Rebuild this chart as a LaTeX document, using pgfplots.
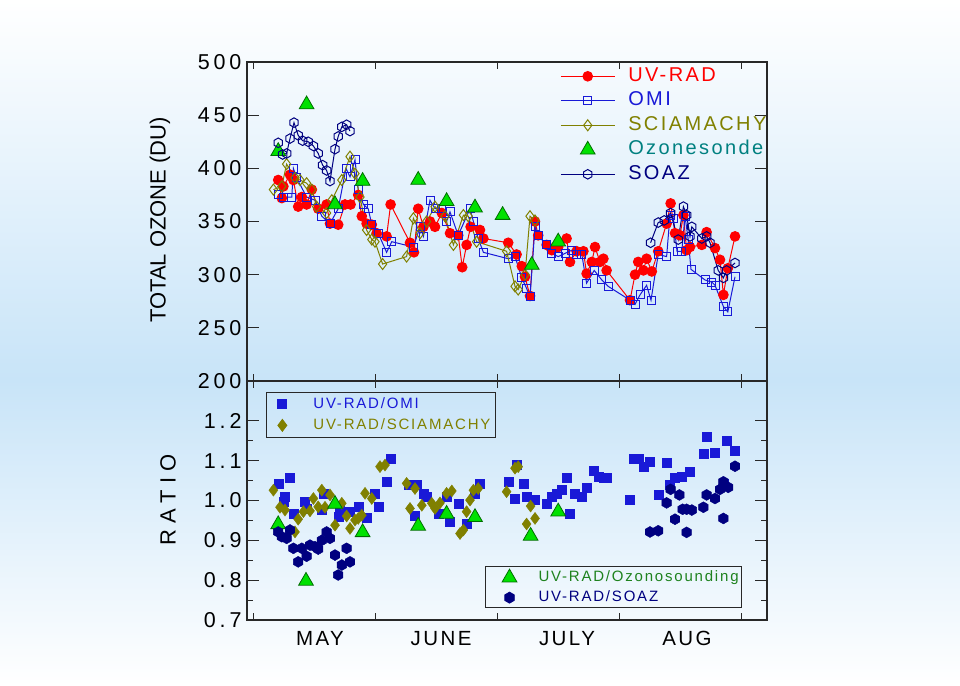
\documentclass[border=0pt]{standalone}
\usepackage{fontspec}
\setmainfont{Liberation Sans}
\newfontfamily\lsp[LetterSpace=12]{Liberation Sans}
\newfontfamily\lspt[LetterSpace=18]{Liberation Sans}
\newfontfamily\lspw[LetterSpace=30]{Liberation Sans}
\usepackage{pgfplots}
\pgfplotsset{compat=1.18}

\definecolor{uvred}{RGB}{255,0,0}
\definecolor{omiblue}{RGB}{25,25,215}
\definecolor{sciaolive}{RGB}{128,128,0}
\definecolor{soaznavy}{RGB}{0,0,128}
\definecolor{sondegreen}{RGB}{0,225,0}
\definecolor{sondeedge}{RGB}{0,110,0}
\definecolor{sondetext}{RGB}{0,128,128}
\definecolor{ozontext}{RGB}{30,130,30}
\definecolor{bgblue}{RGB}{200,228,248}
\definecolor{axgray}{RGB}{40,40,40}

\pgfdeclareplotmark{hexagon}{%
\pgfpathmoveto{\pgfqpointpolar{90}{\pgfplotmarksize}}%
\pgfpathlineto{\pgfqpointpolar{150}{\pgfplotmarksize}}%
\pgfpathlineto{\pgfqpointpolar{210}{\pgfplotmarksize}}%
\pgfpathlineto{\pgfqpointpolar{270}{\pgfplotmarksize}}%
\pgfpathlineto{\pgfqpointpolar{330}{\pgfplotmarksize}}%
\pgfpathlineto{\pgfqpointpolar{30}{\pgfplotmarksize}}%
\pgfpathclose\pgfusepathqstroke}
\pgfdeclareplotmark{hexagon*}{%
\pgfpathmoveto{\pgfqpointpolar{90}{\pgfplotmarksize}}%
\pgfpathlineto{\pgfqpointpolar{150}{\pgfplotmarksize}}%
\pgfpathlineto{\pgfqpointpolar{210}{\pgfplotmarksize}}%
\pgfpathlineto{\pgfqpointpolar{270}{\pgfplotmarksize}}%
\pgfpathlineto{\pgfqpointpolar{330}{\pgfplotmarksize}}%
\pgfpathlineto{\pgfqpointpolar{30}{\pgfplotmarksize}}%
\pgfpathclose\pgfusepathqfillstroke}

\pgfplotsset{
  base/.style={scale only axis, width=520pt, xmin=-1.5, xmax=128.5, anchor=south west,
    axis line style={axgray,line width=1.3pt}, tick align=inside,
    major tick style={axgray,line width=1pt}, minor tick style={axgray,line width=0.8pt},
    major tick length=12pt, minor tick length=6pt,
    yticklabel style={font=\fontsize{21.5}{25}\selectfont\lspt, xshift=-2pt},
    xticklabel style={font=\fontsize{20.5}{24}\selectfont\lsp},
    /pgf/number format/assume math mode=true},
}

\pgfplotstableread{
d v
6.3 389
7.2 372
7.6 383
9.25 394
10.1 389
11.3 364
12.2 373
13.4 366
14.7 380
16.3 362
18.4 366
19.25 348
21.3 347
23 366
24.4 366
26.3 375
27.2 355
28.4 348
29.7 347
30.9 339
33.4 336
34.4 366
39.25 330
40.25 321
41.3 362
42.6 345
44.25 350
45.5 345
47.2 358
49.25 339
51.3 337
52.3 307
53.4 328
54.4 345
56.75 342
57.6 334
63.8 330
65.9 319
67.2 308
68 298
69.25 280
70.5 350
71.3 337
73.4 328
74.7 323
76.3 326
78.4 334
79.25 312
80.9 322
82.6 322
83.4 301
84.7 312
85.5 326
86.75 312
87.6 315
88.4 304
94.25 276
95.5 300
96.3 312
97.6 304
98.4 315
99.7 303
101.3 322
103.4 348
104.4 367
105.5 339
106.75 337
107.6 356
108.4 323
109.25 326
112.2 328
113.4 340
115.5 325
116.75 314
117.6 281
118.7 306
120.5 336
}\uvrad

\pgfplotstableread{
d v
6.3 375
7.6 373
9.7 373
10.1 400
10.9 391
13.4 373
15.5 370
17.2 355
19.25 348
21.3 362
23.25 400
24.25 392
25.5 408
26.3 380
27.6 366
28.8 362
29.7 347
31.3 339
33.4 321
34.7 331
40.1 326
41.75 345
42.6 336
44.25 370
45.5 362
47.2 362
48.4 350
49.25 359
51.3 337
54.25 362
55.1 350
56.3 334
57.6 321
63.8 315
65.5 317
67.2 297
68.4 287
69.25 279
70.5 345
71.3 337
73.4 328
74.7 320
76.3 317
78 320
79.7 323
80.9 319
82.2 319
83.4 292
85.3 304
87.2 295
88.8 289
94.25 276
95.5 272
96.75 281
98.4 290
99.5 276
101.3 319
103.4 317
104.25 356
105.1 353
106 322
107.2 322
108 355
108.8 333
109.5 305
113 295
114.7 293
115.5 290
117.6 270
118.7 265
120.5 298
}\omi

\pgfplotstableread{
d v
5.1 380
7.2 383
8.4 404
10.5 391
11.75 389
13.4 386
14.7 380
15.9 364
18.4 358
19.7 370
22.2 389
24.25 411
25.5 395
26.75 373
28.4 342
29.7 333
30.5 331
32.4 310
38.4 317
40.1 353
41.75 339
43.4 350
45.5 364
48 355
50.1 328
52.6 356
53.8 355
55.9 331
63.4 322
65.5 289
66.3 286
68 300
69.25 355
70.5 351
}\scia

\pgfplotstableread{
d v
6.3 416
13.4 460
20.5 366
27.4 388
41.3 389
48.4 369
55.5 363
62.4 356
69.7 309
76.3 331
}\sonde

\pgfplotstableread{
d v
6.3 424
7.4 413
8.4 414
9.25 428
10.25 443
11.3 431
12.4 426
13.8 425
15.1 421
16.3 414
17.4 403
18.4 398
19.25 388
20.5 418
21.3 430
22.2 439
23.4 441
24.25 435
60 nan
99.4 330
101.3 349
102.8 351
104.4 358
106.3 333
107.6 364
108.4 356
109.25 336
109.7 345
112.2 334
113.4 336
114.25 330
116.3 304
117.6 297
118.4 304
120.5 311
}\soaz

\pgfplotstableread{
d r
6.3 1.041
7.6 0.997
8 1.009
9.25 1.057
10.1 0.968
13 0.997
13.4 0.980
17.2 0.976
17.6 1.018
21.3 0.959
21.75 0.976
24.25 0.972
26.3 0.984
28.4 0.957
30.5 1.018
31.3 0.984
33.4 1.047
34.4 1.106
38.8 1.039
40.5 0.963
40.9 1.039
42.6 1.018
43.4 1.009
46.3 0.968
48.4 1.009
49.25 0.948
51.3 0.993
53.4 0.942
55.5 1.018
56.75 1.041
63.8 1.047
65.5 1.005
65.9 1.089
67.6 1.043
68.4 1.009
70.5 1.001
73.4 0.993
74.7 1.009
75.9 1.018
77.2 1.026
78.4 1.058
79.25 0.968
80.5 1.018
82.2 1.009
83.4 1.032
85.1 1.074
86.3 1.060
87.6 1.058
88.4 1.056
94.25 1.003
95.1 1.106
96.3 1.106
97.6 1.085
99.25 1.097
101.3 1.015
103.4 1.096
104.25 1.039
105.5 1.056
107.2 1.060
109.25 1.072
112.6 1.117
113.4 1.159
115.5 1.121
117.6 1.043
118.4 1.150
120.5 1.125
}\romi

\pgfplotstableread{
d r
5.1 1.026
6.75 0.983
8 0.976
10.5 0.921
11.3 0.953
12.6 0.972
14.25 0.974
15.1 1.005
16.3 0.984
17.2 1.026
18 0.983
19.25 1.014
20.5 0.938
22.2 0.993
23.4 0.961
24.25 0.930
25.5 0.951
26.3 0.955
27.2 0.963
28 1.018
29.7 1.005
31.75 1.085
33 1.089
38.4 1.043
39.25 0.980
40.5 1.030
42.2 0.988
44.7 0.993
45.5 0.980
46.75 0.994
48.4 1.018
49.7 1.024
51.75 0.917
52.6 0.926
53.4 0.972
54.25 1.001
55.1 1.026
56.3 1.030
63.4 1.022
65.5 1.081
66.3 1.085
68.4 0.941
69.4 0.986
70.5 0.955
}\rscia

\pgfplotstableread{
d r
6.3 0.940
13.25 0.798
20.5 0.991
27.4 0.920
41.3 0.936
48.4 0.966
55.5 0.958
69.4 0.911
76.3 0.972
}\rsonde

\pgfplotstableread{
d r
6.3 0.921
7.2 0.909
8.4 0.905
9.25 0.926
10.1 0.880
11.3 0.846
12.2 0.880
13.4 0.860
14.25 0.888
15.5 0.884
16.3 0.878
17.2 0.900
18.4 0.921
19.25 0.905
20.5 0.863
21.3 0.813
22.2 0.838
23.4 0.880
24.25 0.846
99.25 0.921
101.3 0.924
103.4 0.994
104.4 1.028
105.5 0.953
106.6 1.014
107.4 0.978
108.4 0.978
108.4 0.920
109.7 0.976
112.6 0.983
113.4 1.014
115.5 1.005
116.75 1.028
117.6 0.955
117.6 1.047
118.8 1.033
120.5 1.086
}\rsoaz

\begin{document}
\begin{tikzpicture}[x=1pt,y=1pt]
\path[use as bounding box] (0,0) rectangle (960,685);
\shade[top color=white, bottom color=bgblue] (0,305) rectangle (960,685);
\shade[top color=bgblue, bottom color=white] (0,0) rectangle (960,305);

% ---------- top panel ----------
\begin{axis}[base, at={(247pt,304pt)}, height=319pt,
  ymin=200, ymax=500, ytick={200,250,...,500},
  xtick={0,30.5,61,91.5,122}, xticklabels={},
  x tick style={/pgfplots/major tick length=7pt},
  unbounded coords=jump,
  legend style={at={(0.602,0.984)}, anchor=north west, draw=none, fill=none,
    inner sep=0pt, row sep=6.5pt,
    font=\fontsize{20}{24}\selectfont\lsp,
    nodes={inner sep=0pt, text height=14pt, text depth=4pt},
    /tikz/every odd column/.append style={column sep=13pt}},
  legend cell align=left,
  legend image code/.code={\draw[mark repeat=2,mark phase=2,#1] plot coordinates {(0pt,0pt) (27pt,0pt) (54pt,0pt)};},
]
\addplot[uvred, line width=1pt, mark=*, mark size=4.8pt, mark options={fill=uvred}] table[x=d,y=v] {\uvrad};
\addlegendentry{\textcolor{uvred}{UV-RAD}}
\addplot[omiblue, line width=1pt, mark=square, mark size=4pt, mark options={line width=1pt}] table[x=d,y=v] {\omi};
\addlegendentry{\textcolor{omiblue}{OMI}}
\addplot[sciaolive, line width=1pt, mark=diamond, mark size=5.5pt, mark options={line width=1pt}] table[x=d,y=v] {\scia};
\addlegendentry{\textcolor{sciaolive}{SCIAMACHY}}
\addplot[only marks, mark=triangle*, mark size=8.5pt, mark options={fill=sondegreen, draw=sondeedge, line width=0.8pt}] table[x=d,y=v] {\sonde};
\addlegendentry{\textcolor{sondetext}{Ozonesonde}}
\addplot[soaznavy, line width=1pt, mark=hexagon, mark size=4.8pt, mark options={line width=1pt}] table[x=d,y=v] {\soaz};
\addlegendentry{\textcolor{soaznavy}{SOAZ}}
\end{axis}

% ---------- bottom panel ----------
\begin{axis}[base, at={(247pt,65pt)}, height=239pt,
  ymin=0.7, ymax=1.3, ytick={0.7,0.8,0.9,1.0,1.1,1.2},
  yticklabels={0.7,0.8,0.9,1.0,1.1,1.2}, minor y tick num=1,
  xtick={16.75,47,78.5,108.5}, xticklabels={MAY,JUNE,JULY,AUG},
  x tick style={/pgfplots/major tick length=0pt},
  extra x ticks={0,30.5,61,91.5,122}, extra x tick labels={},
  extra x tick style={x tick style={/pgfplots/major tick length=7pt}},
  xticklabel style={yshift=-8pt},
  legend style={at={(0.0365,0.954)}, anchor=north west, draw=axgray, line width=0.8pt, fill=none,
    inner sep=5pt, row sep=7pt,
    font=\fontsize{15}{18}\selectfont\lsp,
    nodes={inner sep=0pt, text height=11pt, text depth=3pt},
    /tikz/every odd column/.append style={column sep=20pt}},
  legend cell align=left,
  legend image code/.code={\path[draw=none,fill=none] (0pt,-5pt) rectangle (22pt,5pt); \draw[mark repeat=2,mark phase=2,#1] plot coordinates {(0pt,0pt) (11pt,0pt) (22pt,0pt)};},
]
\addplot[only marks, mark=square*, mark size=4.5pt, mark options={fill=omiblue, draw=omiblue}] table[x=d,y=r] {\romi};
\addlegendentry{\textcolor{omiblue}{UV-RAD/OMI}}
\addplot[only marks, mark=diamond*, mark size=6pt, mark options={fill=sciaolive, draw=sciaolive}] table[x=d,y=r] {\rscia};
\addlegendentry{\textcolor{sciaolive}{UV-RAD/SCIAMACHY}}
\end{axis}

\begin{axis}[base, at={(247pt,65pt)}, height=239pt, hide axis,
  ymin=0.7, ymax=1.3,
  legend style={at={(0.952,0.05)}, anchor=south east, draw=axgray, line width=0.8pt, fill=none,
    inner sep=3pt, row sep=6pt,
    font=\fontsize{15}{18}\selectfont\lsp,
    nodes={inner sep=0pt, text height=11pt, text depth=3pt},
    /tikz/every odd column/.append style={column sep=10pt}},
  legend cell align=left,
  legend image code/.code={\path[draw=none,fill=none] (0pt,-5pt) rectangle (40pt,5pt); \draw[mark repeat=2,mark phase=2,#1] plot coordinates {(0pt,0pt) (21pt,0pt) (40pt,0pt)};},
]
\addplot[only marks, mark=triangle*, mark size=8.5pt, mark options={fill=sondegreen, draw=sondeedge, line width=0.8pt}] table[x=d,y=r] {\rsonde};
\addlegendentry{\textcolor{ozontext}{UV-RAD/Ozonosounding}}
\addplot[only marks, mark=hexagon*, mark size=5.5pt, mark options={fill=soaznavy, draw=soaznavy}] table[x=d,y=r] {\rsoaz};
\addlegendentry{\textcolor{soaznavy}{UV-RAD/SOAZ}}
\end{axis}

\node[rotate=90, font=\fontsize{22}{26}\selectfont] at (160,465) {TOTAL OZONE (DU)};
\node[rotate=90, font=\fontsize{22}{26}\selectfont\lspw] at (168,185) {RATIO};
\end{tikzpicture}
\end{document}
